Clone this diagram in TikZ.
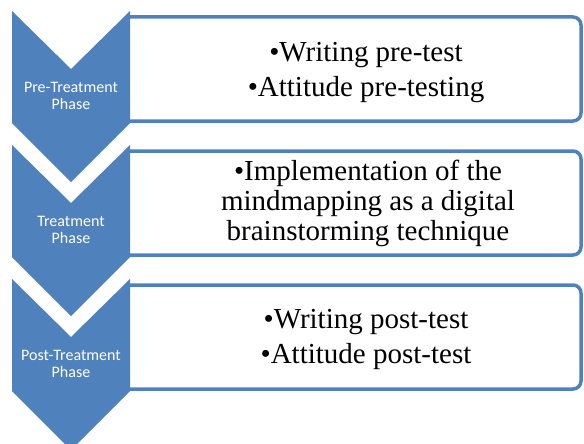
\documentclass[tikz,border=0pt]{standalone}
\usepackage{fontspec}
\newfontfamily\bodyfont{Liberation Serif}
\newfontfamily\labelfont{Carlito}
\definecolor{phaseblue}{RGB}{79,129,189}

\tikzset{
  phase/.style={fill=phaseblue},
  phasetext/.style={text=white, align=center, inner sep=0pt,
    font=\labelfont\fontsize{16}{17}\selectfont},
  activity/.style={draw=phaseblue, line width=3.5pt, rounded corners=8pt},
  activitytext/.style={align=center, inner sep=0pt,
    font=\bodyfont\fontsize{29}{30}\selectfont}
}

\begin{document}
\begin{tikzpicture}[x=1pt,y=-1pt]
  \clip (0,0) rectangle (584,444);

  % top left corner of each chevron
  \coordinate (p1) at (12,11);
  \coordinate (p2) at (12,145);
  \coordinate (p3) at (12,279);

  % boxes first, the chevrons hide their left end
  \draw[activity] (128,17) -- (581,17) -- (581,121) -- (128,121);
  \draw[activity] (128,151) -- (581,151) -- (581,255) -- (128,255);
  \draw[activity] (128,285) -- (581,285) -- (581,389) -- (128,389);

  \fill[phase] (p1) -- ++(59,58) -- ++(59,-58) -- ++(0,112) -- ++(-59,59) -- ++(-59,-59) -- cycle;
  \fill[phase] (p2) -- ++(59,58) -- ++(59,-58) -- ++(0,112) -- ++(-59,59) -- ++(-59,-59) -- cycle;
  \fill[phase] (p3) -- ++(59,58) -- ++(59,-58) -- ++(0,112) -- ++(-59,59) -- ++(-59,-59) -- cycle;

  \node[phasetext] (ph1) at (71,96) {Pre-Treatment\\Phase};
  \node[phasetext] (ph2) at (71,230) {Treatment\\Phase};
  \node[phasetext] (ph3) at (71,364) {Post-Treatment\\Phase};

  \node[activitytext] (act1) at (366,73) {•Writing pre-test\\[5pt]•Attitude pre-testing};
  \node[activitytext] (act2) at (368,203) {•Implementation of the\\mindmapping as a digital\\brainstorming technique};
  \node[activitytext] (act3) at (366,339) {•Writing post-test\\[5pt]•Attitude post-test};

\end{tikzpicture}
\end{document}
